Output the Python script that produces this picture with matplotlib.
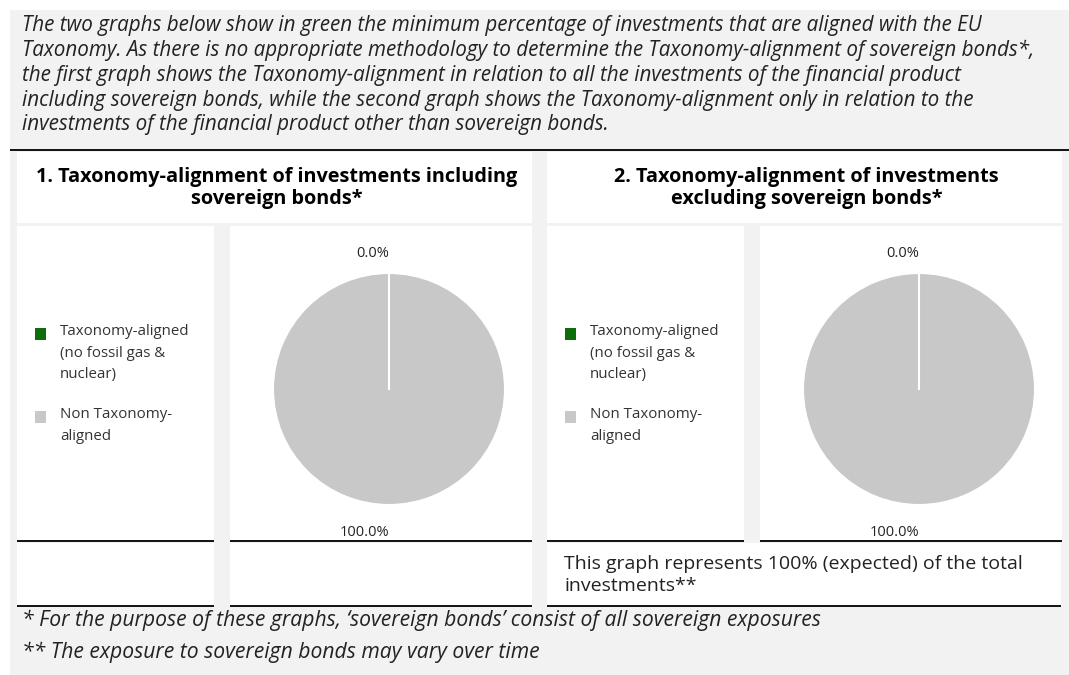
import numpy as np
import matplotlib.pyplot as plt
from matplotlib.patches import Rectangle

# data
pie_labels = ["Taxonomy-aligned\n(no fossil gas &\nnuclear)", "Non Taxonomy-\naligned"]
pie_colors = ["#0b6e0b", "#c8c8c8"]
incl_sovereign = [0.0, 100.0]
excl_sovereign = [0.0, 100.0]
titles = ["1. Taxonomy-alignment of investments including\nsovereign bonds*",
          "2. Taxonomy-alignment of investments\nexcluding sovereign bonds*"]
intro = ("The two graphs below show in green the minimum percentage of investments that are aligned with the EU\n"
         "Taxonomy. As there is no appropriate methodology to determine the Taxonomy-alignment of sovereign bonds*,\n"
         "the first graph shows the Taxonomy-alignment in relation to all the investments of the financial product\n"
         "including sovereign bonds, while the second graph shows the Taxonomy-alignment only in relation to the\n"
         "investments of the financial product other than sovereign bonds.")
note_right = "This graph represents 100% (expected) of the total\ninvestments**"
footnotes = ["* For the purpose of these graphs, \u2018sovereign bonds\u2019 consist of all sovereign exposures",
             "** The exposure to sovereign bonds may vary over time"]

W, H = 1069, 675
plt.rcParams['font.family'] = ['Open Sans', 'DejaVu Sans']
fig = plt.figure(figsize=(W / 100, H / 100), dpi=100)
fig.patch.set_facecolor("white")

bg = fig.add_axes([0, 0, 1, 1])
bg.set_xlim(0, W)
bg.set_ylim(H, 0)
bg.axis("off")

def box(x0, y0, x1, y1, color="white"):
    bg.add_patch(Rectangle((x0, y0), x1 - x0, y1 - y0, facecolor=color, edgecolor="none"))

def hline(x0, x1, y):
    bg.plot([x0, x1], [y, y], color="black", lw=1.3, solid_capstyle="butt")

box(10, 10, W, H, "#f2f2f2")
bg.text(22, 75, intro, fontsize=14.9, style="italic", color="#222222", va="center", ha="left",
        linespacing=1.24)
hline(10, W, 150)

offset = 530
for k, (title, vals) in enumerate(zip(titles, [incl_sovereign, excl_sovereign])):
    dx = k * offset
    # title panel
    box(17 + dx, 152, 532 + dx, 223)
    bg.text((17 + 532) / 2 + dx + 2, 188, title, fontsize=14.3, fontweight="bold", ha="center", va="center",
            linespacing=1.15)
    # legend and pie panels
    box(17 + dx, 226, 214 + dx, 540)
    box(230 + dx, 226, 532 + dx, 540)
    hline(17 + dx, 214 + dx, 541)
    hline(230 + dx, 532 + dx, 541)
    if k == 0:
        box(17, 543, 214, 605)
        box(230, 543, 532, 605)
        hline(17, 214, 606)
        hline(230, 532, 606)
    else:
        box(547, 543, 1061, 605)
        hline(547, 1061, 606)
        bg.text(564, 575, note_right, fontsize=14, ha="left", va="center", color="#222222", linespacing=1.25)

    # legend
    for lab, col, y in zip(pie_labels, pie_colors, [334, 417]):
        box(35 + dx, y - 6, 46 + dx, y + 6, col)
        bg.text(60 + dx, y - 10, lab, fontsize=10.8, ha="left", va="top", color="#333333", linespacing=1.6)

    # pie
    cx, cy, r = 389 + dx, 389, 116
    ax = fig.add_axes([(cx - r) / W, 1 - (cy + r) / H, 2 * r / W, 2 * r / H])
    wedges, texts = ax.pie(vals, colors=pie_colors, startangle=90, counterclock=False,
                           labels=[f"{v:.1f}%" for v in vals], labeldistance=1.2,
                           wedgeprops=dict(edgecolor="white", linewidth=1.5),
                           textprops=dict(fontsize=10.5, color="#222222"))
    # boundary between wedges (the zero slice)
    ang = np.deg2rad(wedges[0].theta1)
    ax.plot([0, np.cos(ang)], [0, np.sin(ang)], color="white", lw=1.5)
    texts[0].set_position((0, 1.17))
    texts[1].set_position((0, -1.24))
    ax.set_xlim(-1, 1)
    ax.set_ylim(-1, 1)
    ax.set_aspect("equal")

for y, t in zip([620, 652], footnotes):
    bg.text(22, y, t, fontsize=15.2, style="italic", color="#222222", ha="left", va="center")

fig.savefig("out.png", dpi=100)
